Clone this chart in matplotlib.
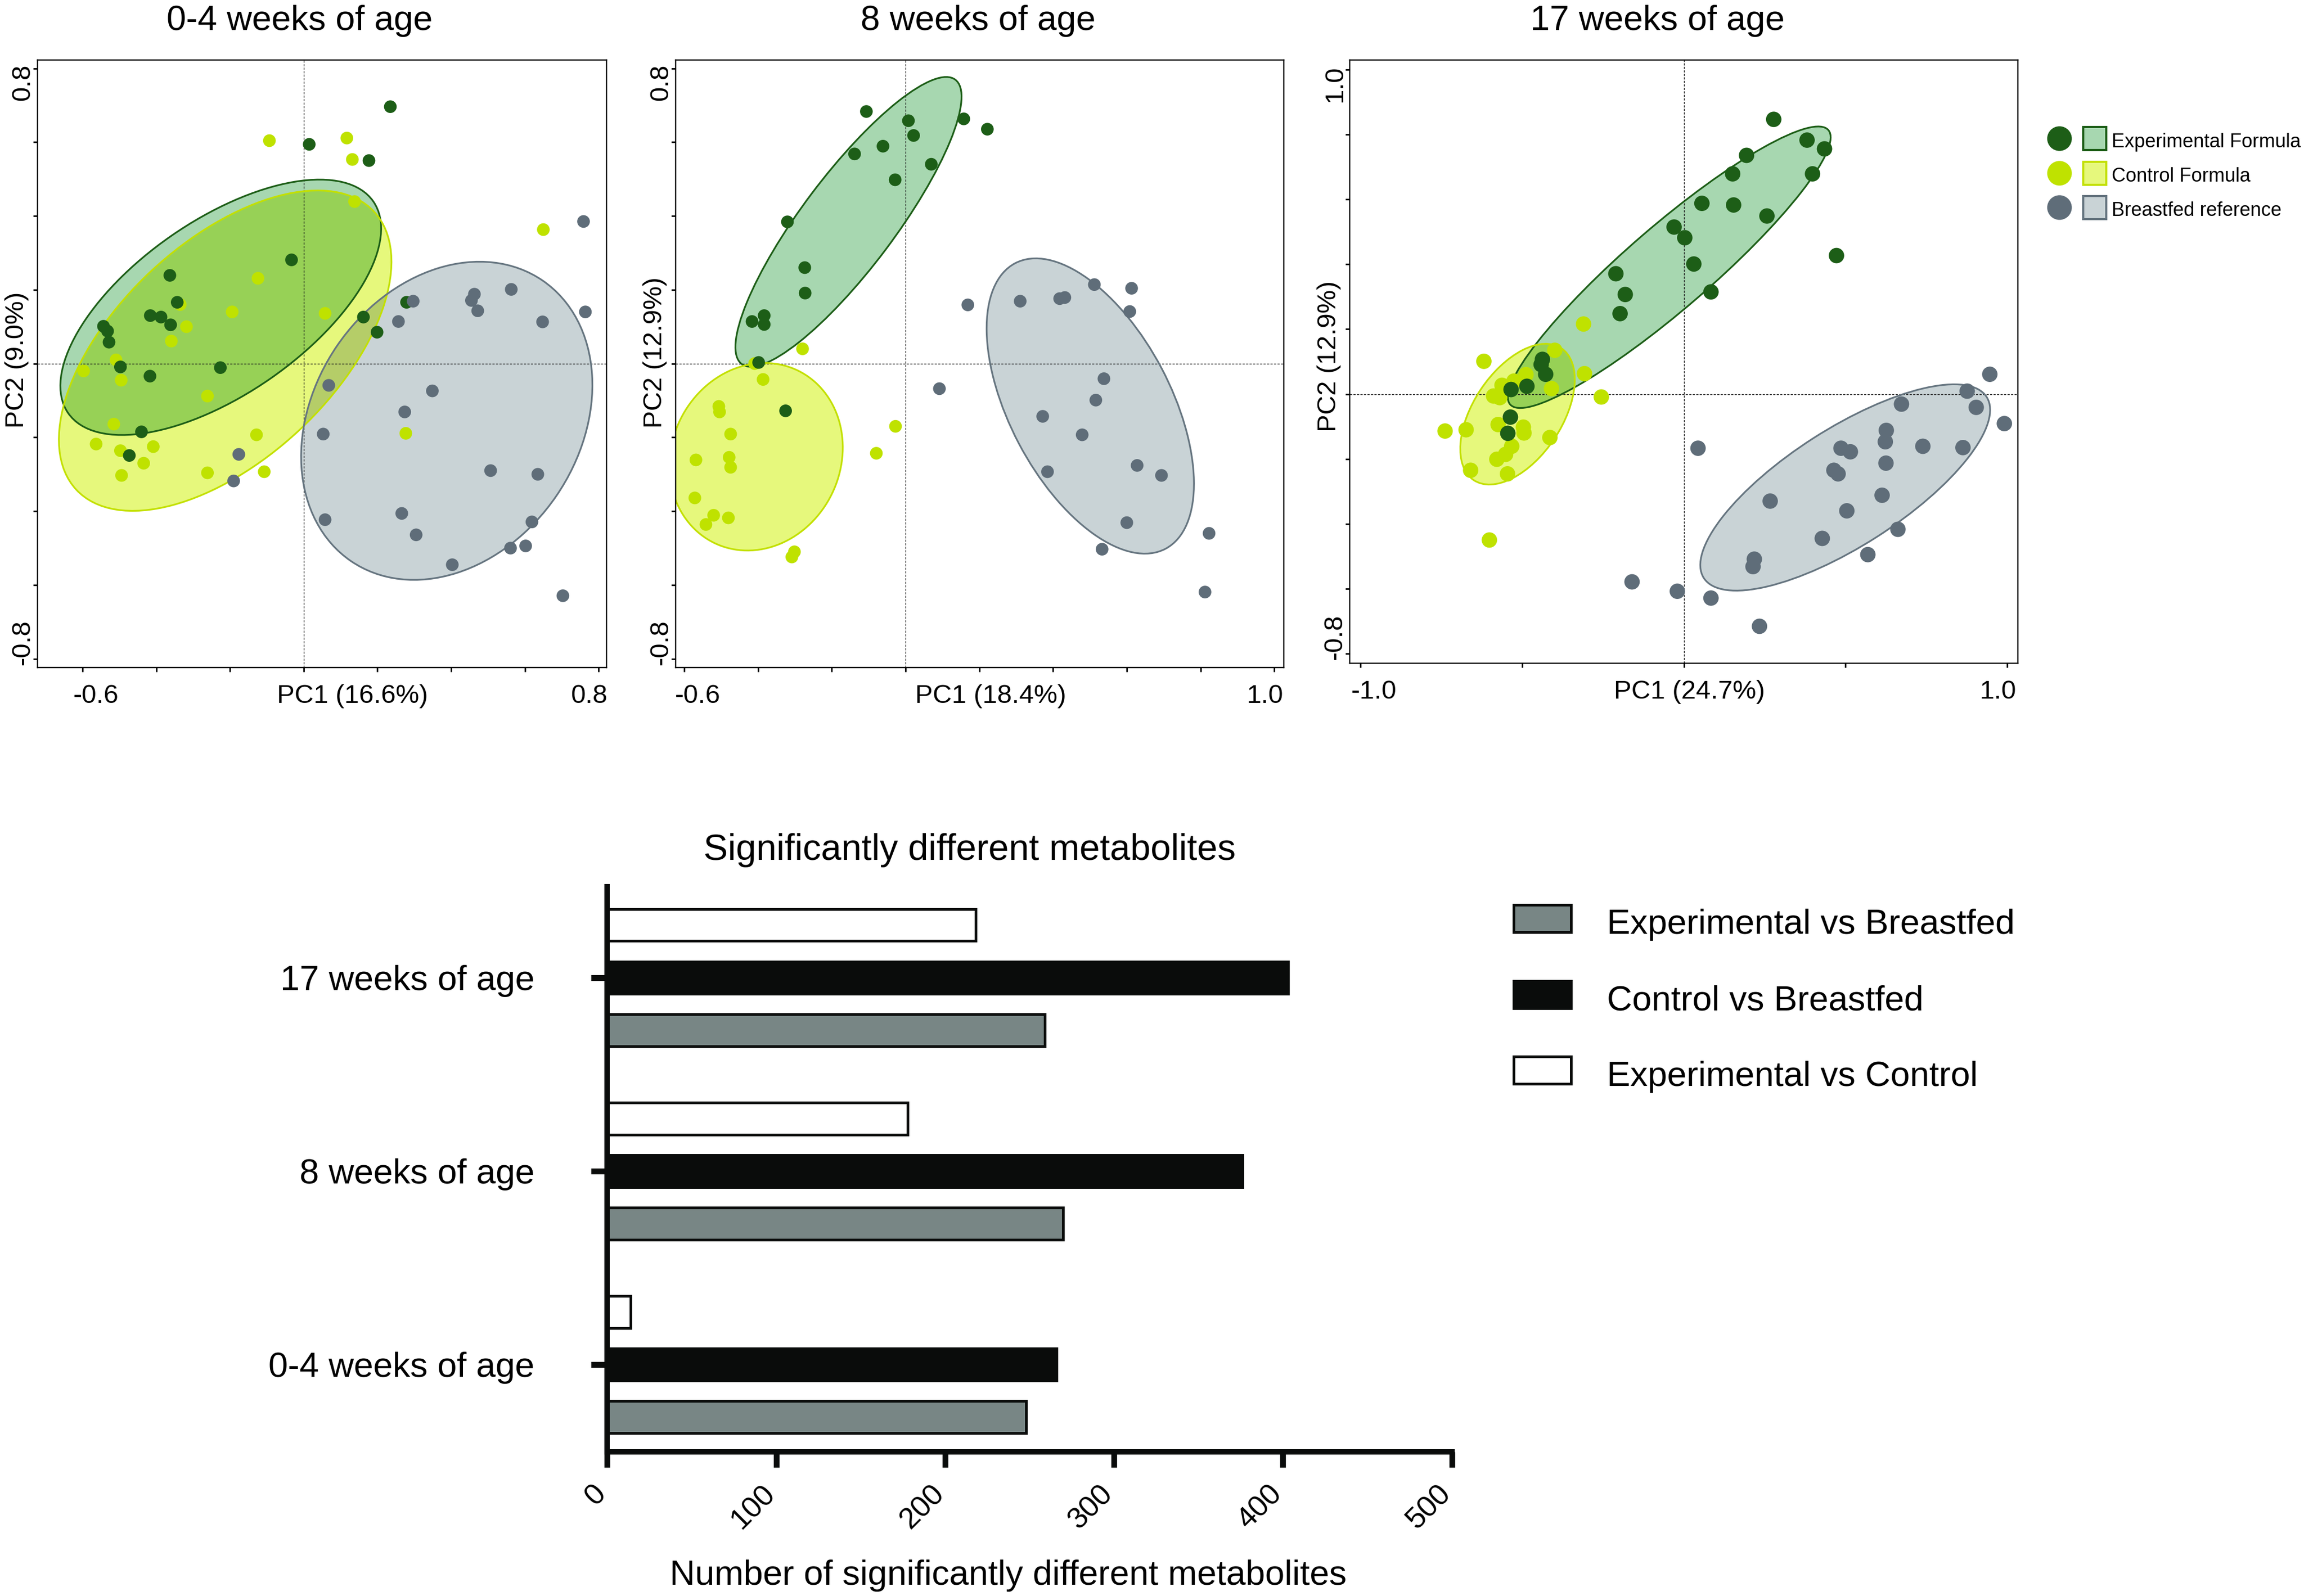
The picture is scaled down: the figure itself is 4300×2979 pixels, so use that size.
import numpy as np
import matplotlib
matplotlib.use("Agg")
import matplotlib.pyplot as plt
import matplotlib.colors as mcolors
from matplotlib.patches import Ellipse, Rectangle

plt.rcParams['font.family'] = ['Liberation Sans', 'DejaVu Sans']

W, H, DPI = 4300, 2979, 100


def pt(px):
    return px * 72.0 / DPI


# ---------------- PCA score data ----------------
# Panel A : 0-4 weeks of age
a_exp_x = [0.235, 0.015, 0.177, -0.033, -0.363, -0.343, -0.416, -0.387, -0.361, -0.543,
           -0.532, -0.528, -0.497, -0.226, -0.417, -0.440, -0.473, 0.279, 0.162, 0.199]
a_exp_y = [0.696, 0.594, 0.550, 0.281, 0.239, 0.166, 0.130, 0.126, 0.105, 0.101,
           0.088, 0.058, -0.009, -0.011, -0.034, -0.185, -0.249, 0.166, 0.126, 0.085]
a_ctl_x = [-0.093, 0.117, 0.132, 0.138, 0.650, -0.124, -0.194, 0.058, -0.318, -0.335,
           -0.359, -0.509, -0.597, -0.495, -0.261, -0.515, -0.563, -0.497, -0.408, -0.434,
           -0.494, -0.261, -0.128, -0.107, 0.277]
a_ctl_y = [0.604, 0.611, 0.553, 0.439, 0.363, 0.231, 0.140, 0.136, 0.100, 0.160,
           0.061, 0.010, -0.020, -0.045, -0.088, -0.164, -0.218, -0.236, -0.225, -0.270,
           -0.303, -0.296, -0.193, -0.293, -0.189]
a_bf_x = [0.759, 0.563, 0.463, 0.455, 0.472, 0.297, 0.257, 0.648, 0.764, 0.068,
          0.349, 0.274, 0.053, -0.176, -0.190, 0.507, 0.635, 0.266, 0.058, 0.619,
          0.305, 0.561, 0.602, 0.403, 0.703]
a_bf_y = [0.385, 0.201, 0.188, 0.171, 0.143, 0.169, 0.114, 0.113, 0.140, -0.059,
          -0.074, -0.131, -0.191, -0.246, -0.318, -0.290, -0.300, -0.406, -0.423, -0.429,
          -0.464, -0.500, -0.494, -0.545, -0.629]
# ellipse: centre x, centre y, half-width, half-height, correlation
a_ell_exp = [-0.225, 0.1525, 0.435, 0.346, 0.616]
a_ell_ctl = [-0.213, 0.035, 0.451, 0.434, 0.556]
a_ell_bf = [0.388, -0.155, 0.395, 0.431, 0.225]

# Panel B : 8 weeks of age
b_exp_x = [-0.106, 0.008, 0.158, 0.222, 0.022, -0.061, -0.138, 0.070, -0.028, -0.320,
           -0.273, -0.272, -0.383, -0.416, -0.383, -0.398, -0.325]
b_exp_y = [0.683, 0.658, 0.663, 0.635, 0.618, 0.589, 0.568, 0.540, 0.498, 0.384,
           0.260, 0.191, 0.130, 0.114, 0.106, 0.003, -0.128]
b_ctl_x = [-0.279, -0.409, -0.386, -0.506, -0.504, -0.474, -0.568, -0.478, -0.474, -0.571,
           -0.520, -0.480, -0.541, -0.301, -0.308, -0.027, -0.079]
b_ctl_y = [0.040, 0.000, -0.043, -0.116, -0.131, -0.191, -0.261, -0.254, -0.281, -0.364,
           -0.411, -0.418, -0.436, -0.510, -0.524, -0.170, -0.243]
b_bf_x = [0.169, 0.311, 0.418, 0.432, 0.512, 0.613, 0.608, 0.092, 0.538, 0.516,
          0.372, 0.479, 0.385, 0.628, 0.694, 0.600, 0.823, 0.533, 0.812]
b_bf_y = [0.159, 0.169, 0.176, 0.179, 0.214, 0.204, 0.141, -0.068, -0.041, -0.099,
          -0.143, -0.193, -0.293, -0.276, -0.303, -0.431, -0.460, -0.503, -0.619]
b_ell_exp = [-0.1545, 0.384, 0.3065, 0.3925, 0.864]
b_ell_ctl = [-0.405, -0.2525, 0.235, 0.254, 0.099]
b_ell_bf = [0.501, -0.115, 0.281, 0.400, -0.526]

# Panel C : 17 weeks of age
c_exp_x = [0.278, 0.381, 0.435, 0.194, 0.151, 0.398, 0.056, 0.154, 0.257, -0.030,
           0.003, 0.031, 0.472, -0.210, -0.181, 0.084, -0.197, -0.437, -0.441, -0.427,
           -0.485, -0.534, -0.536, -0.544]
c_exp_y = [0.847, 0.783, 0.756, 0.736, 0.679, 0.679, 0.588, 0.583, 0.549, 0.515,
           0.482, 0.401, 0.427, 0.371, 0.307, 0.315, 0.248, 0.107, 0.091, 0.061,
           0.024, 0.014, -0.071, -0.121]
c_ctl_x = [-0.310, -0.399, -0.618, -0.307, -0.488, -0.525, -0.562, -0.409, -0.588, -0.569,
           -0.255, -0.738, -0.673, -0.574, -0.496, -0.494, -0.414, -0.532, -0.551, -0.578,
           -0.659, -0.545, -0.601]
c_ctl_y = [0.216, 0.135, 0.101, 0.063, 0.060, 0.040, 0.027, 0.017, -0.006, -0.011,
           -0.009, -0.114, -0.110, -0.094, -0.102, -0.120, -0.134, -0.161, -0.186, -0.201,
           -0.235, -0.246, -0.450]
c_bf_x = [0.946, 0.876, 0.673, 0.904, 0.991, 0.626, 0.623, 0.486, 0.515, 0.739,
          0.863, 0.625, 0.464, 0.477, 0.044, 0.267, 0.613, 0.504, 0.662, 0.428,
          0.569, 0.218, 0.214, -0.160, -0.020, 0.084, 0.234]
c_bf_y = [0.061, 0.009, -0.031, -0.041, -0.091, -0.112, -0.147, -0.167, -0.178, -0.161,
          -0.165, -0.213, -0.235, -0.246, -0.167, -0.330, -0.312, -0.360, -0.417, -0.445,
          -0.495, -0.509, -0.532, -0.579, -0.608, -0.629, -0.716]
c_ell_exp = [-0.045, 0.391, 0.499, 0.434, 0.923]
c_ell_ctl = [-0.514, -0.062, 0.177, 0.217, 0.492]
c_ell_bf = [0.499, -0.288, 0.448, 0.318, 0.752]

panel_titles = ['0-4 weeks of age', '8 weeks of age', '17 weeks of age']
pc1_labels = ['PC1 (16.6%)', 'PC1 (18.4%)', 'PC1 (24.7%)']
pc2_labels = ['PC2 (9.0%)', 'PC2 (12.9%)', 'PC2 (12.9%)']
x_end_labels = [('-0.6', '0.8'), ('-0.6', '1.0'), ('-1.0', '1.0')]
y_end_labels = [('0.8', '-0.8'), ('0.8', '-0.8'), ('1.0', '-0.8')]
group_names = ['Experimental Formula', 'Control Formula', 'Breastfed reference']

# ---------------- bar chart data ----------------
categories = ['0-4 weeks of age', '8 weeks of age', '17 weeks of age']
exp_vs_bf = [248, 270, 259]
ctrl_vs_bf = [266, 376, 403]
exp_vs_ctrl = [14, 178, 218]
bar_series = ['Experimental vs Breastfed', 'Control vs Breastfed', 'Experimental vs Control']
bar_ticks = [0, 100, 200, 300, 400, 500]

# ---------------- styles ----------------
EXP_DOT, CTL_DOT, BF_DOT = '#1d5e17', '#bfe200', '#5f6d79'
EXP_FILL, CTL_FILL, BF_FILL = '#a7d7b0', '#e6f87c', '#c9d3d6'
EXP_EDGE, CTL_EDGE, BF_EDGE = '#1d5e17', '#c3e000', '#667580'
BAR_GREY, BAR_BLACK = '#788685', '#0a0c0b'

fig = plt.figure(figsize=(W / DPI, H / DPI), dpi=DPI)
fig.patch.set_facecolor('white')


def mult(c1, c2):
    a = np.array(mcolors.to_rgb(c1))
    b = np.array(mcolors.to_rgb(c2))
    return tuple(a * b)


def ell_patch(p, **kw):
    cx, cy, wx, wy, rho = p
    S = np.array([[wx * wx, rho * wx * wy], [rho * wx * wy, wy * wy]])
    vals, vecs = np.linalg.eigh(S)
    ang = np.degrees(np.arctan2(vecs[1, 1], vecs[0, 1]))
    return Ellipse((cx, cy), 2 * np.sqrt(vals[1]), 2 * np.sqrt(vals[0]), angle=ang, **kw)


panels = [
    dict(rect=(70, 112, 1132.4, 1245.6), xlim=(-0.722, 0.822), ylim=(-0.823, 0.8225),
         xticks=np.arange(-0.6, 0.81, 0.2), yticks=np.arange(-0.8, 0.81, 0.2),
         exp=(a_exp_x, a_exp_y), ctl=(a_ctl_x, a_ctl_y), bf=(a_bf_x, a_bf_y),
         ells=[a_ell_exp, a_ell_ctl, a_ell_bf], s=290, title_x=0.4605, pc1_x=0.553, pc2_y=0.506),
    dict(rect=(1261, 112, 2396, 1245.6), xlim=(-0.623, 1.0256), ylim=(-0.823, 0.8225),
         xticks=np.arange(-0.6, 1.01, 0.2), yticks=np.arange(-0.8, 0.81, 0.2),
         exp=(b_exp_x, b_exp_y), ctl=(b_ctl_x, b_ctl_y), bf=(b_bf_x, b_bf_y),
         ells=[b_ell_exp, b_ell_ctl, b_ell_bf], s=290, title_x=0.497, pc1_x=0.518, pc2_y=0.518),
    dict(rect=(2519, 112, 3766, 1237.7), xlim=(-1.0328, 1.0328), ylim=(-0.8295, 1.030),
         xticks=np.arange(-1.0, 1.01, 0.5), yticks=np.arange(-0.8, 1.01, 0.2),
         exp=(c_exp_x, c_exp_y), ctl=(c_ctl_x, c_ctl_y), bf=(c_bf_x, c_bf_y),
         ells=[c_ell_exp, c_ell_ctl, c_ell_bf], s=430, title_x=0.4603, pc1_x=0.508, pc2_y=0.509),
]

fills_c = [EXP_FILL, CTL_FILL, BF_FILL]
edges_c = [EXP_EDGE, CTL_EDGE, BF_EDGE]
ZERO_LS = (0, (2.9, 1.8))

for k, P in enumerate(panels):
    l, t, r, b = P['rect']
    ax = fig.add_axes([l / W, 1 - b / H, (r - l) / W, (b - t) / H])
    ax.set_xlim(*P['xlim'])
    ax.set_ylim(*P['ylim'])
    ax.set_xticks(P['xticks'])
    ax.set_yticks(P['yticks'])
    ax.tick_params(direction='out', length=pt(8), width=pt(2.8), labelbottom=False,
                   labelleft=False, color='black')
    for sp in ax.spines.values():
        sp.set_linewidth(pt(2.4))
        sp.set_color('black')

    fills = []
    for p, fc in zip(P['ells'], fills_c):
        e = ell_patch(p, facecolor=fc, edgecolor='none', zorder=1)
        ax.add_patch(e)
        fills.append(e)
    for i in range(3):
        for j in range(i + 1, 3):
            o = ell_patch(P['ells'][j], facecolor=mult(fills_c[i], fills_c[j]),
                          edgecolor='none', zorder=1.2)
            ax.add_patch(o)
            o.set_clip_path(fills[i])
    ax.axhline(0, color='#1a1a1a', lw=1.0, ls=ZERO_LS, zorder=2)
    ax.axvline(0, color='#1a1a1a', lw=1.0, ls=ZERO_LS, zorder=2)
    for p, ec in zip(P['ells'], edges_c):
        ax.add_patch(ell_patch(p, facecolor='none', edgecolor=ec, lw=pt(3.2), zorder=2.5))

    ax.scatter(*P['ctl'], s=P['s'], color=CTL_DOT, edgecolors='none', zorder=3)
    ax.scatter(*P['exp'], s=P['s'], color=EXP_DOT, edgecolors='none', zorder=3.1)
    ax.scatter(*P['bf'], s=P['s'], color=BF_DOT, edgecolors='none', zorder=3.2)

    FS = 35.5
    x0, x1 = P['xticks'][0], P['xticks'][-1]
    ax.annotate(x_end_labels[k][0], xy=(x0, 0), xycoords=('data', 'axes fraction'),
                xytext=(pt(25), -pt(66)), textcoords='offset points', ha='center',
                va='baseline', fontsize=FS)
    ax.annotate(x_end_labels[k][1], xy=(x1, 0), xycoords=('data', 'axes fraction'),
                xytext=(-pt(18), -pt(66)), textcoords='offset points', ha='center',
                va='baseline', fontsize=FS)
    ax.annotate(pc1_labels[k], xy=(P['pc1_x'], 0), xycoords='axes fraction',
                xytext=(0, -pt(66)), textcoords='offset points', ha='center',
                va='baseline', fontsize=FS)
    y0, y1 = P['yticks'][0], P['yticks'][-1]
    ax.annotate(y_end_labels[k][0], xy=(0, y1), xycoords=('axes fraction', 'data'),
                xytext=(-pt(15), pt(8)), textcoords='offset points', ha='right',
                va='baseline', rotation=90, rotation_mode='anchor', fontsize=FS)
    ax.annotate(y_end_labels[k][1], xy=(0, y0), xycoords=('axes fraction', 'data'),
                xytext=(-pt(15), -pt(11)), textcoords='offset points', ha='left',
                va='baseline', rotation=90, rotation_mode='anchor', fontsize=FS)
    ax.annotate(pc2_labels[k], xy=(0, P['pc2_y']), xycoords='axes fraction',
                xytext=(-pt(26), 0), textcoords='offset points', ha='center',
                va='baseline', rotation=90, rotation_mode='anchor', fontsize=FS)
    ax.annotate(panel_titles[k], xy=(P['title_x'], 1), xycoords='axes fraction',
                xytext=(0, pt(56)), textcoords='offset points', ha='center',
                va='baseline', fontsize=47)

# ---------------- bar chart ----------------
OFF, BH = 0.272, 0.166
bax = fig.add_axes([1133.3 / W, 1 - 2710 / H, (2709.5 - 1133.3) / W, (2710 - 1655) / H])
ypos = np.arange(len(categories))
bar_lw = pt(5)
bax.barh(ypos - OFF, exp_vs_bf, height=BH, color=BAR_GREY, edgecolor=BAR_BLACK, lw=bar_lw, zorder=2)
bax.barh(ypos, ctrl_vs_bf, height=BH, color=BAR_BLACK, edgecolor=BAR_BLACK, lw=bar_lw, zorder=2)
bax.barh(ypos + OFF, exp_vs_ctrl, height=BH, color='white', edgecolor=BAR_BLACK, lw=bar_lw, zorder=2)
bax.set_xlim(0, 500)
bax.set_ylim(-0.452, 2.47)
for s in ['top', 'right']:
    bax.spines[s].set_visible(False)
for s in ['left', 'bottom']:
    bax.spines[s].set_linewidth(pt(10))
    bax.spines[s].set_color(BAR_BLACK)
    bax.spines[s].set_zorder(3)
bax.set_xticks(bar_ticks)
bax.set_xticklabels([str(v) for v in bar_ticks], rotation=45, ha='right', va='baseline',
                    rotation_mode='anchor', fontsize=40)
bax.set_yticks(ypos)
bax.set_yticklabels(categories, fontsize=47)
bax.tick_params(axis='x', direction='out', length=pt(29), width=pt(10.7), pad=pt(51), color=BAR_BLACK)
bax.tick_params(axis='y', direction='out', length=pt(30), width=pt(11), pad=pt(106), color=BAR_BLACK)
bax.set_facecolor('none')

fig.text(1810 / W, 1 - 1605 / H, 'Significantly different metabolites', ha='center',
         va='baseline', fontsize=49)
fig.text(1882 / W, 1 - 2958 / H, 'Number of significantly different metabolites', ha='center',
         va='baseline', fontsize=47)

# ---------------- legends (overlay in pixel coordinates) ----------------
lax = fig.add_axes([0, 0, 1, 1], zorder=-1)
lax.set_xlim(0, W)
lax.set_ylim(H, 0)
lax.axis('off')

leg_y = [258.7, 323.4, 387.4]
dots = [EXP_DOT, CTL_DOT, BF_DOT]
for yy, name, dc, fc, ec in zip(leg_y, group_names, dots, fills_c, edges_c):
    lax.scatter([3843.7], [yy], s=pt(46) ** 2, color=dc, edgecolors='none')
    lax.add_patch(Rectangle((3887.5, yy - 21.5), 43, 43, facecolor=fc, edgecolor=ec, lw=pt(4)))
    lax.text(3941, yy + 16, name, ha='left', va='baseline', fontsize=26)

bleg_y = [1714, 1856, 1997.5]
bleg_fc = [BAR_GREY, BAR_BLACK, 'white']
for yy, name, fc in zip(bleg_y, bar_series, bleg_fc):
    lax.add_patch(Rectangle((2824.5, yy - 25.5), 107, 51, facecolor=fc, edgecolor=BAR_BLACK, lw=pt(5)))
    lax.text(2999, yy + 29, name, ha='left', va='baseline', fontsize=47)

fig.savefig('out.png', dpi=DPI, facecolor='white')
